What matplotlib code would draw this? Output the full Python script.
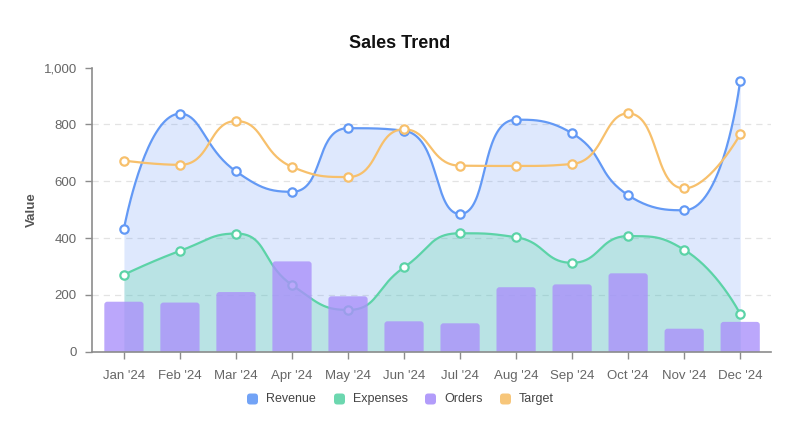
import numpy as np
import matplotlib
matplotlib.use('Agg')
import matplotlib.pyplot as plt
from matplotlib.patches import FancyBboxPatch
from matplotlib.ticker import FuncFormatter

months = ["Jan '24", "Feb '24", "Mar '24", "Apr '24", "May '24", "Jun '24",
          "Jul '24", "Aug '24", "Sep '24", "Oct '24", "Nov '24", "Dec '24"]
revenue = [433, 838, 635, 563, 787, 778, 485, 817, 769, 551, 498, 954]
expenses = [271, 355, 416, 235, 147, 297, 417, 403, 313, 407, 359, 133]
orders = [176, 173, 210, 318, 195, 107, 100, 227, 237, 276, 81, 105]
target = [673, 658, 812, 651, 615, 783, 655, 654, 661, 839, 575, 765]
series_names = ["Revenue", "Expenses", "Orders", "Target"]

C_REV = '#6399f5'
C_EXP = '#5cd3a7'
C_ORD = '#aa91fa'
C_TGT = '#f7c06c'
TXT = '#666666'
AX = '#8c8c8c'

W, H = 800, 438
fig = plt.figure(figsize=(W / 100, H / 100), dpi=100)
plt.rcParams['font.family'] = ['Liberation Sans', 'DejaVu Sans']

L, R, T, B = 92, 771, 67.7, 351.7
ax = fig.add_axes([L / W, 1 - B / H, (R - L) / W, (B - T) / H])

x = np.arange(len(months))
ax.set_xlim(-0.57, len(months) - 1 + 0.55)
ax.set_ylim(0, 1000)

SX = (R - L) / (len(months) - 1 + 0.55 + 0.57)
SY = (B - T) / 1000.0


def smooth_curve(xs, ys, smooth=0.5, n=40):
    """Smoothed polyline (bezier with clamped control points)."""
    px = np.asarray(xs, float) * SX
    py = np.asarray(ys, float) * SY
    m = len(px)
    segs = []
    cp0 = (px[0], py[0])
    for k in range(1, m):
        x0, y0 = px[k - 1], py[k - 1]
        xk, yk = px[k], py[k]
        if k == m - 1:
            cp1 = (xk, yk)
            nxt = None
        else:
            nx_, ny_ = px[k + 1], py[k + 1]
            vx, vy = nx_ - x0, ny_ - y0
            lp = np.hypot(xk - x0, yk - y0)
            ln = np.hypot(nx_ - xk, ny_ - yk)
            r = ln / (ln + lp)
            ncx = xk + vx * smooth * r
            ncy = yk + vy * smooth * r
            ncx = min(ncx, max(nx_, xk)); ncy = min(ncy, max(ny_, yk))
            ncx = max(ncx, min(nx_, xk)); ncy = max(ncy, min(ny_, yk))
            vx, vy = ncx - xk, ncy - yk
            c1x = xk - vx * lp / ln
            c1y = yk - vy * lp / ln
            c1x = min(c1x, max(x0, xk)); c1y = min(c1y, max(y0, yk))
            c1x = max(c1x, min(x0, xk)); c1y = max(c1y, min(y0, yk))
            vx, vy = xk - c1x, yk - c1y
            ncx = xk + vx * ln / lp
            ncy = yk + vy * ln / lp
            cp1 = (c1x, c1y)
            nxt = (ncx, ncy)
        segs.append(((x0, y0), cp0, cp1, (xk, yk)))
        cp0 = nxt
    u = np.linspace(0, 1, n)[:, None]
    out = []
    for i, (P0, P1, P2, P3) in enumerate(segs):
        P0, P1, P2, P3 = map(np.array, (P0, P1, P2, P3))
        seg = (1 - u) ** 3 * P0 + 3 * (1 - u) ** 2 * u * P1 + 3 * (1 - u) * u ** 2 * P2 + u ** 3 * P3
        out.append(seg if i == 0 else seg[1:])
    out = np.vstack(out)
    return out[:, 0] / SX, out[:, 1] / SY


# grid
for g in [200, 400, 600, 800]:
    ax.axhline(g, color='#e3e3e3', lw=0.9, ls=(0, (5, 4)), zorder=0)

rx, ry = smooth_curve(x, revenue)
ex, ey = smooth_curve(x, expenses)
tx, ty = smooth_curve(x, target)

ax.fill_between(rx, ry, 0, color='#5b8ff9', alpha=0.2, lw=0, zorder=1)
ax.fill_between(ex, ey, 0, color='#5ad8a6', alpha=0.28, lw=0, zorder=1.1)

for cx, cy, vals, col in [(rx, ry, revenue, C_REV), (ex, ey, expenses, C_EXP), (tx, ty, target, C_TGT)]:
    ax.plot(cx, cy, color=col, lw=1.6, zorder=3, solid_capstyle='round')
    ax.plot(x, vals, ls='none', marker='o', ms=6, mfc='white', mec=col, mew=1.6, zorder=4)

bars = ax.bar(x, orders, width=0.7, color=C_ORD, alpha=0.8, lw=0, zorder=5)
# round the top corners of the bars (bottom corners are clipped by the axes)
rad_x = 3.0 / SX
rad_y = 3.0 / SY
for b in bars:
    bx, bw, bh = b.get_x(), b.get_width(), b.get_height()
    rp = FancyBboxPatch((bx, -rad_y * 2), bw, bh + rad_y * 2,
                        boxstyle=f'round,pad=0,rounding_size={rad_x}',
                        mutation_aspect=rad_y / rad_x,
                        facecolor=C_ORD, edgecolor='none', alpha=0.8, zorder=5)
    ax.add_patch(rp)
    b.set_visible(False)

# axes styling
for s in ['top', 'right']:
    ax.spines[s].set_visible(False)
for s in ['left', 'bottom']:
    ax.spines[s].set_color(AX)
    ax.spines[s].set_linewidth(1.2)
    ax.spines[s].set_zorder(6)
ax.set_xticks(x)
ax.set_xticklabels(months)
ax.set_yticks([0, 200, 400, 600, 800, 1000])
ax.yaxis.set_major_formatter(FuncFormatter(lambda v, p: f'{v:,.0f}'))
ax.tick_params(axis='both', colors=AX, labelcolor=TXT, labelsize=9.5, length=5, width=1)
ax.tick_params(axis='x', pad=8.5)
ax.tick_params(axis='y', pad=6)
ax.set_facecolor('none')

fig.text(32 / W, 1 - 210 / H, 'Value', rotation=90, ha='center', va='center',
         fontsize=9.5, fontweight='bold', color='#555555')
fig.text(400 / W, 1 - 43 / H, 'Sales Trend', ha='center', va='center',
         fontsize=13, fontweight='bold', color='#111111')

# legend
leg_cols = [C_REV, C_EXP, C_ORD, C_TGT]
leg_x = [247, 334, 425, 500]
ly = 399
for name, col, lx in zip(series_names, leg_cols, leg_x):
    box = FancyBboxPatch(((lx) / W, 1 - (ly + 5.5) / H), 11 / W, 11 / H,
                         boxstyle='round,pad=0,rounding_size=0.004',
                         transform=fig.transFigure, facecolor=col, edgecolor='none',
                         alpha=0.9, mutation_aspect=W / H)
    fig.patches.append(box)
    fig.text((lx + 19) / W, 1 - ly / H, name, ha='left', va='center',
             fontsize=9, color='#444444')

fig.savefig('out.png', dpi=100, facecolor='white')
